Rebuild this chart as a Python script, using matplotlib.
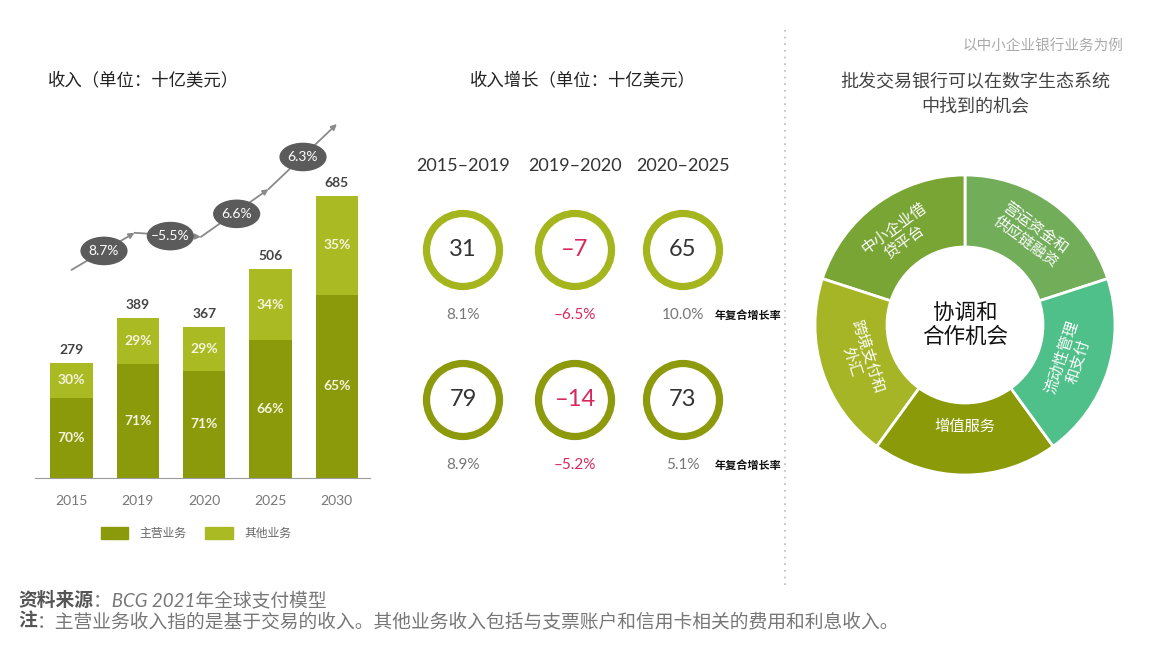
import matplotlib
matplotlib.use('Agg')
import matplotlib.pyplot as plt
from matplotlib.patches import Circle, Ellipse, Patch
import numpy as np

plt.rcParams['font.family'] = ['Lato', 'Noto Sans CJK SC', 'DejaVu Sans']

# ---- data ----
years = ['2015', '2019', '2020', '2025', '2030']
totals = [279, 389, 367, 506, 685]
main_pct = [70, 71, 71, 66, 65]
other_pct = [30, 29, 29, 34, 35]
cagr_labels = ['8.7%', '–5.5%', '6.6%', '6.3%']
legend_labels = ['主营业务', '其他业务']

periods = ['2015–2019', '2019–2020', '2020–2025']
growth_row1 = [31, -7, 65]
cagr_row1 = ['8.1%', '–6.5%', '10.0%']
growth_row2 = [79, -14, 73]
cagr_row2 = ['8.9%', '–5.2%', '5.1%']

segments = ['营运资金和\n供应链融资', '中小企业借\n贷平台', '跨境支付和\n外汇', '增值服务', '流动性管理\n和支付']
seg_sizes = [1, 1, 1, 1, 1]
seg_colors = ['#72ae5a', '#79a535', '#a5b526', '#8a9a08', '#4fc08a']

dark = '#8a9a0a'
light = '#aaba22'
red = '#d8275c'

W, H = 1161, 651
fig = plt.figure(figsize=(W / 100, H / 100), dpi=100)

# overlay axes in pixel units for text and decorations
ax0 = fig.add_axes([0, 0, 1, 1])
ax0.set_xlim(0, W)
ax0.set_ylim(H, 0)
ax0.axis('off')

# ---- left: stacked bars ----
ax = fig.add_axes([35 / W, (H - 478) / H, 335 / W, 368 / H])
x = list(range(len(years)))
mains = [t * p / 100 for t, p in zip(totals, main_pct)]
others = [t * p / 100 for t, p in zip(totals, other_pct)]
ax.bar(x, mains, width=0.64, color=dark, zorder=2)
ax.bar(x, others, bottom=mains, width=0.64, color=light, zorder=2)
for i in x:
    ax.text(i, mains[i] / 2, f'{main_pct[i]}%', ha='center', va='center',
            color='#f4f4dc', fontsize=10, fontweight='bold')
    ax.text(i, mains[i] + others[i] / 2, f'{other_pct[i]}%', ha='center', va='center',
            color='#f4f4dc', fontsize=10, fontweight='bold')
    ax.annotate(str(totals[i]), (i, totals[i]), xytext=(0, 9.5), textcoords='offset points',
                ha='center', va='center', fontsize=10, fontweight='bold', color='#444444')
ax.set_xlim(-0.55, 4.5)
ax.set_ylim(0, 893)
ax.set_xticks(x)
ax.set_xticklabels(years, fontsize=10, color='#777777')
ax.tick_params(axis='x', length=0, pad=12)
ax.set_yticks([])
for s in ['top', 'right', 'left']:
    ax.spines[s].set_visible(False)
ax.spines['bottom'].set_color('#9a9a9a')
ax.patch.set_alpha(0)

# trend arrows with CAGR bubbles
path = [(0.0, 505), (0.95, 595), (1.95, 585), (2.97, 701), (4.0, 859)]
for p0, p1 in zip(path[:-1], path[1:]):
    ax.annotate('', xy=p1, xytext=p0,
                arrowprops=dict(arrowstyle='-|>', color='#8a8a8a', lw=1.3,
                                mutation_scale=8, shrinkA=0, shrinkB=0))
bubble_y = [551, 587, 641, 779]
for i, lab in enumerate(cagr_labels):
    ax.add_patch(Ellipse((i + 0.49, bubble_y[i]), 0.69, 66, color='#5b5b5b', zorder=4))
    ax.text(i + 0.49, bubble_y[i], lab, ha='center', va='center', color='white',
            fontsize=10, zorder=5)

handles = [Patch(color=dark), Patch(color=light)]
fig.legend(handles, legend_labels, loc='center', bbox_to_anchor=(196 / W, 1 - 533 / H),
           ncol=2, frameon=False, handlelength=2.3, handleheight=1.2, columnspacing=1.6,
           handletextpad=1.0, fontsize=8.5, labelcolor='#666666')

ax0.text(48, 80, '收入（单位：十亿美元）', fontsize=12.5, va='center', ha='left',
         color='#222222', fontweight='medium')

# ---- middle: growth circles ----
ax0.text(470, 80, '收入增长（单位：十亿美元）', fontsize=12.5, va='center', ha='left',
         color='#222222', fontweight='medium')
col_x = [463, 575, 683]
for cx, per in zip(col_x, periods):
    ax0.text(cx, 166, per, ha='center', va='center', fontsize=13, color='#333333')

rows = [(250, growth_row1, cagr_row1, '#a5b51e'), (400, growth_row2, cagr_row2, '#8c9a0c')]
for cy, vals, cagrs, ring in rows:
    for cx, v, c in zip(col_x, vals, cagrs):
        ax0.add_patch(Circle((cx, cy), 36.5, fill=False, ec=ring, lw=5.2))
        col = red if v < 0 else '#333333'
        txt = f'–{abs(v)}' if v < 0 else str(v)
        ax0.text(cx, cy, txt, ha='center', va='center', fontsize=17, color=col)
        ax0.text(cx, cy + 65, c, ha='center', va='center', fontsize=11,
                 color=red if c.startswith('–') else '#777777')
    ax0.text(715, cy + 65, '年复合增长率', ha='left', va='center', fontsize=8,
             color='#111111', fontweight='bold')

# divider
ax0.plot([785, 785], [30, 585], color='#bbbbbb', lw=1.2, ls=(0, (1, 3)))

# ---- right: donut ----
ax0.text(1123, 47, '以中小企业银行业务为例', ha='right', va='center', fontsize=10.5, color='#aaaaaa')
ax0.text(975, 82, '批发交易银行可以在数字生态系统', ha='center', va='center', fontsize=13, color='#444444')
ax0.text(975, 106, '中找到的机会', ha='center', va='center', fontsize=13, color='#444444')

axd = fig.add_axes([815 / W, (H - 475) / H, 300 / W, 300 / H])
wedges, _ = axd.pie(seg_sizes, colors=seg_colors, startangle=18, counterclock=True,
                    wedgeprops=dict(width=0.48, edgecolor='white', linewidth=2))
axd.set_xlim(-1, 1)
axd.set_ylim(-1, 1)
axd.set_aspect('equal')
for w, lab in zip(wedges, segments):
    ang = (w.theta1 + w.theta2) / 2
    r = 0.74 if '\n' in lab else 0.68
    tx, ty = r * np.cos(np.radians(ang)), r * np.sin(np.radians(ang))
    rot = ang - 90
    if rot < -90:
        rot += 180
    if ang > 180:
        rot = ang - 270
    axd.text(tx, ty, lab, ha='center', va='center', rotation=rot, rotation_mode='anchor',
             color='white', fontsize=11, linespacing=1.25, multialignment='center')
axd.text(0, 0, '协调和\n合作机会', ha='center', va='center', fontsize=15.5, color='#111111',
         linespacing=1.2)

# ---- footer ----
renderer = fig.canvas.get_renderer()
foot = [('资料来源', '：BCG 2021年全球支付模型', 600),
        ('注', '：主营业务收入指的是基于交易的收入。其他业务收入包括与支票账户和信用卡相关的费用和利息收入。', 621)]
for head, rest, yy in foot:
    t = ax0.text(18, yy, head, ha='left', va='center', fontsize=13.5, color='#555555',
                 fontweight='bold', fontstyle='italic')
    bb = t.get_window_extent(renderer)
    ax0.annotate(rest, (bb.x1, H - yy), xycoords='figure pixels', ha='left', va='center',
                 fontsize=13.5, color='#777777', fontstyle='italic')

fig.savefig('out.png', dpi=100, facecolor='white')
